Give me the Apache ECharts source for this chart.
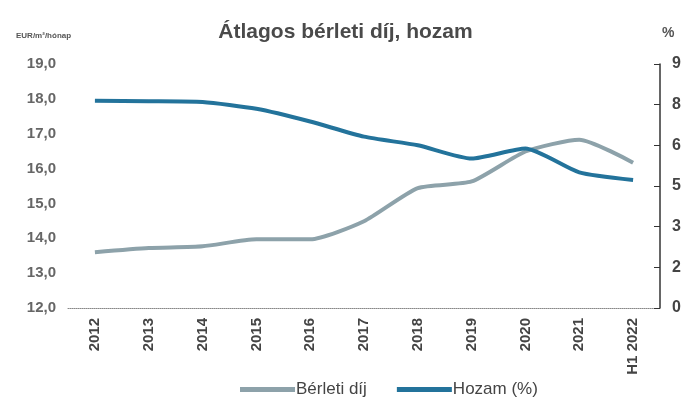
<!DOCTYPE html>
<html>
<head>
<meta charset="utf-8">
<script src="https://cdn.jsdelivr.net/npm/echarts@6/dist/echarts.min.js"></script>
<style>
  html, body { margin: 0; padding: 0; background: #fff; }
  #chart { width: 691px; height: 405px; }
</style>
</head>
<body>
<div id="chart"></div>
<script>
'use strict';
// kategóriák (évek)
var years = ['2012', '2013', '2014', '2015', '2016', '2017', '2018', '2019', '2020', '2021', 'H1 2022'];
// bérleti díj, EUR/m2/hónap (bal tengely)
var rent = [13.6, 13.72, 13.77, 13.97, 13.97, 14.49, 15.44, 15.63, 16.49, 16.83, 16.17];
// hozam, % (jobb tengely)
var yieldPct = [7.64, 7.63, 7.6, 7.35, 6.88, 6.32, 6.0, 5.51, 5.88, 5.0, 4.72];
// tengelyfeliratok
var leftTickLabels = ['12,0', '13,0', '14,0', '15,0', '16,0', '17,0', '18,0', '19,0'];
var rightTickLabels = ['0', '2', '3', '5', '6', '8', '9'];

var labelFont = 'Liberation Sans Narrow, Arial Narrow, Liberation Sans, sans-serif';

var option = {
	backgroundColor: '#fff',
	animation: false,
	title: {
		text: 'Átlagos bérleti díj, hozam',
		left: 'center',
		top: 17,
		textStyle: { fontSize: 21, fontWeight: 'bold', color: '#4a4a4a', fontFamily: 'Liberation Sans, sans-serif' }
	},
	graphic: [
		{ type: 'text', left: 16, top: 32, style: { text: 'EUR/m²/hónap', fontSize: 8, fontWeight: 'bold', fill: '#555', fontFamily: labelFont } },
		{ type: 'text', left: 662, top: 26, style: { text: '%', fontSize: 14, fontWeight: 'bold', fill: '#555' } }
	],
	legend: {
		bottom: 2,
		left: 235,
		itemWidth: 55,
		itemHeight: 5,
		itemGap: 30,
		icon: 'rect',
		textStyle: { fontSize: 17, color: '#444', fontFamily: labelFont, padding: [0, 0, 0, -4] },
		data: ['Bérleti díj', 'Hozam (%)']
	},
	grid: { left: 68, right: 31, top: 64, bottom: 97 },
	xAxis: [{
		type: 'category',
		data: years,
		boundaryGap: true,
		axisLine: { lineStyle: { color: '#888', type: 'dotted', width: 1 } },
		axisTick: { show: false },
		axisLabel: { rotate: 90, fontSize: 15, fontWeight: 'bold', color: '#444', margin: 10, fontFamily: 'Liberation Sans, sans-serif' }
	}],
	yAxis: [{
		type: 'value',
		min: 12,
		max: 19,
		interval: 1,
		position: 'left',
		axisLine: { show: false },
		axisTick: { show: false },
		splitLine: { show: false },
		axisLabel: {
			fontSize: 15, fontWeight: 'bold', color: '#666', margin: 12, fontFamily: labelFont,
			formatter: function(v, i) { return leftTickLabels[i]; }
		}
	}, {
		type: 'value',
		min: 0,
		max: 9,
		interval: 1.5,
		position: 'right',
		axisLine: { show: true, lineStyle: { color: '#333', width: 1.5 } },
		axisTick: { show: true, inside: true, length: 6, lineStyle: { color: '#333' } },
		splitLine: { show: false },
		axisLabel: {
			fontSize: 16, fontWeight: 'bold', color: '#444', margin: 12, fontFamily: 'Liberation Sans, sans-serif',
			formatter: function(v, i) { return rightTickLabels[i]; }
		}
	}],
	series: [{
		name: 'Bérleti díj',
		type: 'line',
		yAxisIndex: 0,
		data: rent,
		smooth: 0.2,
		symbol: 'none',
		color: '#8da2aa',
		lineStyle: { width: 4, color: '#8da2aa' }
	}, {
		name: 'Hozam (%)',
		type: 'line',
		yAxisIndex: 1,
		data: yieldPct,
		smooth: 0.2,
		symbol: 'none',
		color: '#23739b',
		lineStyle: { width: 4, color: '#23739b' }
	}]
};

var myChart = echarts.init(document.getElementById('chart'));
myChart.setOption(option);
</script>
</body>
</html>
